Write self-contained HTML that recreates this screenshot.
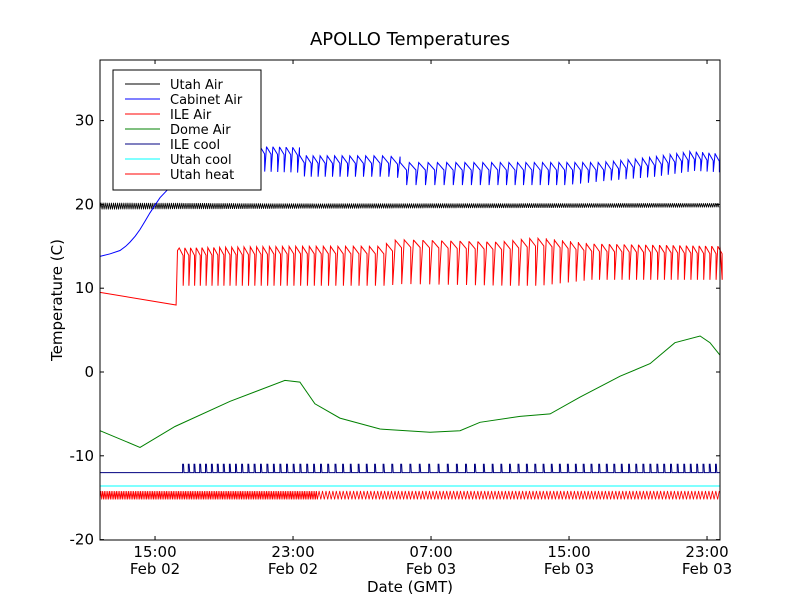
<!DOCTYPE html>
<html><head><meta charset="utf-8"><style>
body{margin:0;background:#fff}
svg text{font-family:"DejaVu Sans","Liberation Sans",sans-serif}
</style></head><body>
<svg id="chart" width="800" height="600" xmlns="http://www.w3.org/2000/svg">
<rect width="800" height="600" fill="#fff"/>
<text x="410" y="45" font-size="18" text-anchor="middle">APOLLO Temperatures</text>
<g id="plot"></g>
<rect x="100" y="60" width="620" height="480" fill="none" stroke="#000" stroke-width="1"/>
<g id="axes"></g>
<text transform="translate(62,300) rotate(-90)" font-size="15" text-anchor="middle">Temperature (C)</text>
<text x="410" y="592" font-size="15" text-anchor="middle">Date (GMT)</text>
<g>
<rect x="113" y="70" width="148" height="120" fill="#fff" stroke="#000"/>
<g id="legend"></g>
</g>
</svg>
<script>
// time in hours since Feb 02 00:00
const yTicks=[-20,-10,0,10,20,30];
const xTicks=[15,23,31,39,47];
const xTickLabels=[["15:00","Feb 02"],["23:00","Feb 02"],["07:00","Feb 03"],["15:00","Feb 03"],["23:00","Feb 03"]];
const seriesNames=["Utah Air","Cabinet Air","ILE Air","Dome Air","ILE cool","Utah cool","Utah heat"];
const seriesColors=["#000","#00f","#f00","#008000","#000080","#0ff","#f00"];
// Cabinet air
const cabRampT=[11.81,12.4,12.97,13.3,13.55,13.85,14.13,14.42,14.71,15.0,15.29,15.7,16.16,16.9,17.61,18.6,19.64];
const cabRampV=[13.8,14.1,14.5,15.0,15.5,16.2,17,18,19,19.9,20.8,21.7,22.5,23.3,24,24.8,25.5];
const cabEnvT=[19.64,22.99,23.4,28.62,29.2,38.48,40.8,43.7,46.01,47.75];
const cabHi=[27,26.8,25.8,25.8,25,25,25,25.6,26.3,26];
const cabLo=[24,23.8,23.3,23.3,22.3,22.3,22.8,23.3,24,23.8];
// ILE air
const ileRampT=[11.81,16.22,16.3];
const ileRampV=[9.5,8.0,14.5];
const ileEnvT=[16.4,23,28,29,35,37,40,47.75];
const ileHi=[14.8,15,15,15.8,15.5,16,15.3,15];
const ileLo=[10.3,10.3,10.3,10.5,10.3,10.3,11,11];
// cycle period (hours)
const periodT=[11.81,24,30,40,47.75];
const periodV=[0.28,0.4,0.55,0.45,0.35];
// Dome air
const domeT=[11.81,14.13,16.16,19.35,22.53,23.4,24.27,25.72,28.04,30.94,32.68,33.84,36.16,37.9,39.64,41.96,43.7,45.14,46.6,47.17,47.75];
const domeV=[-7,-9,-6.5,-3.5,-1,-1.2,-3.8,-5.5,-6.8,-7.2,-7,-6,-5.3,-5,-3,-0.5,1,3.5,4.3,3.5,2];
// Utah air
const utahT=[11.81,24.3,47.75];
const utahV=[19.8,19.8,19.9];
const utahAmp=[0.4,0.3,0.25];
// ILE cool
const ileCoolBase=-12, ileCoolPeak=-11, ileCoolStart=16.6;
// Utah cool / heat
const utahCool=-13.6;
const heatHi=-14.2, heatLo=-15.2;

const T0=11.81,T1=47.75;
const X=h=>100+(h-T0)*17.25;
const Y=v=>372-v*8.38;
const interp=(ts,vs,t)=>{if(t<=ts[0])return vs[0];for(let i=1;i<ts.length;i++){if(t<=ts[i]){const f=(t-ts[i-1])/(ts[i]-ts[i-1]);return vs[i-1]+f*(vs[i]-vs[i-1]);}}return vs[vs.length-1];};
const NS="http://www.w3.org/2000/svg";
const plot=document.getElementById('plot');
function addPath(pts,color,name,w){const p=document.createElementNS(NS,'path');
p.setAttribute('d','M'+pts.map(q=>X(q[0]).toFixed(1)+','+Y(q[1]).toFixed(1)).join('L'));
p.setAttribute('fill','none');p.setAttribute('stroke',color);p.setAttribute('stroke-width',w||1);


plot.appendChild(p);}
function saw(envT,hi,lo,t0,t1){const pts=[];let t=t0;while(t<t1){const p=interp(periodT,periodV,t);const h=interp(envT,hi,t),l=interp(envT,lo,t);
pts.push([t,h]);pts.push([t+0.7*p,h-0.9]);pts.push([t+0.72*p,l]);pts.push([Math.min(t+p,t1),h]);t+=p;}return pts;}
// Utah heat band
(function(){const pts=[];let t=T0,k=0;while(t<T1){pts.push([t,k%2?heatHi:heatLo]);t+= t<24.4?0.05:0.1;k++;}addPath(pts,'#f00','utah-heat-line',0.8);})();
addPath([[T0,utahCool],[T1,utahCool]],'#0ff','utah-cool-line');
// ILE cool
(function(){const pts=[[T0,ileCoolBase],[ileCoolStart,ileCoolBase]];let t=ileCoolStart;while(t<T1){const p=interp(periodT,periodV,t);pts.push([t,ileCoolPeak]);pts.push([t+0.05,ileCoolPeak]);pts.push([t+0.08,ileCoolBase]);pts.push([Math.min(t+p,T1),ileCoolBase]);t+=p;}addPath(pts,'#000080','ile-cool-line');})();
// Dome
addPath(domeT.map((t,i)=>[t,domeV[i]]),'#008000','dome-air-line');
// ILE air
addPath(ileRampT.map((t,i)=>[t,ileRampV[i]]).concat(saw(ileEnvT,ileHi,ileLo,16.4,T1)),'#f00','ile-air-line');
// Utah air
(function(){const pts=[];let t=T0,k=0;while(t<T1){const v=interp(utahT,utahV,t),a=interp(utahT,utahAmp,t);pts.push([t,v+(k%2?a:-a)]);t+=0.06;k++;}addPath(pts,'#000','utah-air-line',0.8);})();
// Cabinet
addPath(cabRampT.map((t,i)=>[t,cabRampV[i]]).concat(saw(cabEnvT,cabHi,cabLo,19.64,T1)),'#00f','cabinet-air-line');
// axes
const ax=document.getElementById('axes');let s='';
yTicks.forEach(v=>{const y=Y(v);s+=`<line x1="100" x2="104" y1="${y}" y2="${y}" stroke="#000"/><line x1="716" x2="720" y1="${y}" y2="${y}" stroke="#000"/><text x="94" y="${y+5}" font-size="15" text-anchor="end">${v}</text>`;});
xTicks.forEach((h,i)=>{const x=X(h);s+=`<line x1="${x}" x2="${x}" y1="536" y2="540" stroke="#000"/><line x1="${x}" x2="${x}" y1="60" y2="64" stroke="#000"/><text x="${x}" y="557" font-size="15" text-anchor="middle">${xTickLabels[i][0]}</text><text x="${x}" y="574" font-size="15" text-anchor="middle">${xTickLabels[i][1]}</text>`;});
ax.innerHTML=s;
let l='';seriesNames.forEach((n,i)=>{const y=84+i*15;l+=`<line x1="125" x2="160" y1="${y}" y2="${y}" stroke="${seriesColors[i]}"/><text x="170" y="${y+5}" font-size="13">${n}</text>`;});
document.getElementById('legend').innerHTML=l;
</script>
</body></html>
